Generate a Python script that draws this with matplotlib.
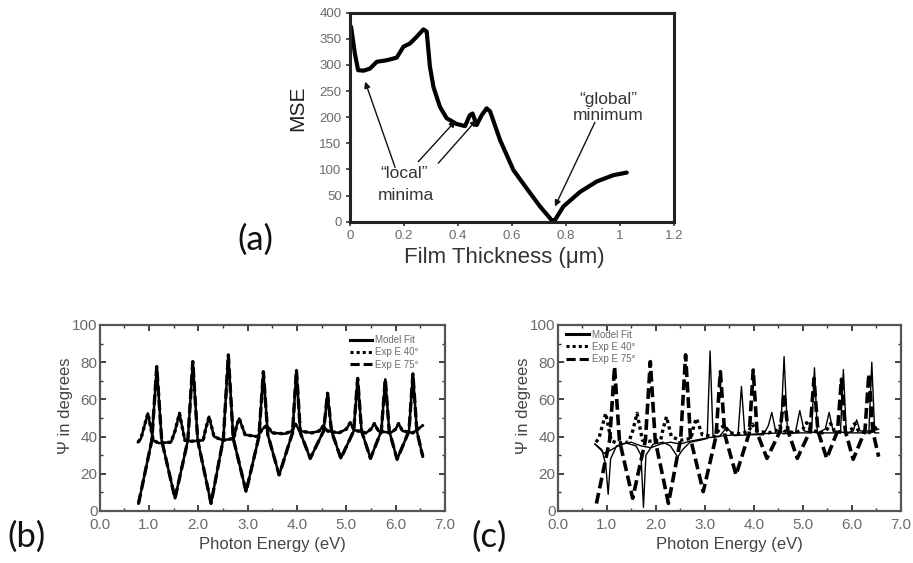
import matplotlib
matplotlib.use("Agg")
import matplotlib.pyplot as plt
from matplotlib.ticker import MultipleLocator, FormatStrFormatter, FuncFormatter

# ---------------- data ----------------
# (a) MSE vs film thickness
a_thickness = [0.004, 0.018, 0.03, 0.05, 0.074, 0.099, 0.136, 0.173, 0.198, 0.222,
               0.247, 0.272, 0.284, 0.296, 0.309, 0.333, 0.358, 0.395, 0.426, 0.444,
               0.454, 0.469, 0.488, 0.506, 0.519, 0.556, 0.605, 0.654, 0.704, 0.747,
               0.759, 0.79, 0.852, 0.914, 0.975, 1.025]
a_mse = [373, 322, 290, 289, 293, 306, 309, 314, 335, 341,
         354, 368, 364, 297, 258, 220, 198, 187, 183, 204,
         207, 185, 204, 217, 211, 156, 99, 64, 29, 3,
         3, 29, 57, 77, 89, 94]

# experimental Psi at 40 deg
exp_energy_40 = [0.78, 0.84, 0.98, 1.09, 1.2, 1.45, 1.53, 1.62, 1.73, 1.85, 2.1, 2.15, 2.22,
                 2.32, 2.5, 2.72, 2.78, 2.83, 2.95, 3.2, 3.3, 3.39, 3.5, 3.75, 3.9, 3.97,
                 4.06, 4.3, 4.45, 4.53, 4.62, 4.85, 5.0, 5.08, 5.16, 5.4, 5.5, 5.57, 5.65,
                 5.9, 6.0, 6.06, 6.14, 6.35, 6.55]
exp_psi_40 = [37, 39, 52.5, 38, 36.5, 37, 43, 52.5, 38, 37.5, 38, 44, 50.7,
              40, 38, 39, 46, 49.8, 41, 40, 44, 46, 42, 41.5, 43, 46.7,
              43, 42, 43, 45.7, 43, 42, 44, 47.5, 43.5, 42, 44, 47, 43,
              42, 44, 47, 43, 42, 46]

# experimental Psi at 75 deg
exp_energy_75 = [0.79, 1.06, 1.16, 1.26, 1.53, 1.79, 1.89, 1.99, 2.26, 2.51, 2.61, 2.71,
                 2.97, 3.23, 3.32, 3.41, 3.64, 3.91, 3.99, 4.07, 4.27, 4.54, 4.62, 4.7,
                 4.89, 5.15, 5.23, 5.31, 5.49, 5.71, 5.79, 5.87, 6.03, 6.27, 6.35, 6.43, 6.55]
exp_psi_75 = [4, 38, 77.6, 38, 6.8, 38, 80.3, 38, 4.1, 39, 83.9, 39,
              10.4, 40, 74.9, 41, 19.4, 42, 75.8, 42, 28.3, 43, 63.3, 43,
              28.3, 43, 71.3, 43, 28.3, 43, 70.8, 43, 27.8, 43, 73.7, 43, 29.2]

# (b) model fit (overlays the experiment)
b_model_energy_40 = exp_energy_40
b_model_psi_40 = exp_psi_40
b_model_energy_75 = exp_energy_75
b_model_psi_75 = exp_psi_75

# (c) model fit for a wrong thickness
c_model_energy_75 = [0.76, 0.9, 0.98, 1.03, 1.08, 1.2, 1.4, 1.6, 1.7, 1.75, 1.8, 1.95, 2.15,
                     2.3, 2.45, 2.55, 2.7, 2.9, 3.05, 3.11, 3.17, 3.4, 3.68, 3.75, 3.82,
                     4.1, 4.55, 4.62, 4.69, 5.0, 5.18, 5.24, 5.3, 5.6, 5.77, 5.83, 5.89,
                     6.2, 6.35, 6.41, 6.47, 6.55]
c_model_psi_75 = [36, 33, 25, 9, 28, 35, 36.5, 35, 30, 2, 30, 36, 37,
                  35, 29, 33, 37, 38, 39, 86, 40, 40.5, 41, 67, 41,
                  41.5, 42, 83, 42, 42, 42, 77, 42, 42, 42, 76, 42,
                  42, 42, 80, 42, 42]
c_model_energy_40 = [0.76, 0.95, 1.1, 1.3, 1.5, 1.7, 1.9, 2.1, 2.3, 2.5, 2.7, 2.9, 3.1,
                     3.3, 3.45, 3.6, 3.9, 4.2, 4.3, 4.37, 4.44, 4.6, 4.85, 4.94, 5.03,
                     5.3, 5.46, 5.54, 5.62, 5.9, 6.03, 6.1, 6.17, 6.4, 6.55]
c_model_psi_40 = [36, 31, 33, 36, 37, 35, 34, 36, 37, 36, 37.5, 38.5, 39.5,
                  40, 45, 40.5, 41, 41, 46, 53, 44, 41.5, 42, 54, 43,
                  42, 44, 53, 43, 42, 43, 49, 43, 43, 44]

legend_labels = ["Model Fit", "Exp E 40\u00b0", "Exp E 75\u00b0"]
panel_labels = ["(a)", "(b)", "(c)"]

# ---------------- figure ----------------
W, H = 913, 563
fig = plt.figure(figsize=(W / 100, H / 100), dpi=100)
plt.rcParams['font.family'] = ['Liberation Sans', 'DejaVu Sans']

def frac(left, top, right, bottom):
    return [left / W, 1 - bottom / H, (right - left) / W, (bottom - top) / H]

GRAY = '#6a6a6a'

# ---- (a) ----
axa = fig.add_axes(frac(350, 12.7, 674, 221.7))
axa.plot(a_thickness, a_mse, color='black', lw=3.0, solid_joinstyle='round',
         solid_capstyle='round')
axa.set_xlim(0, 1.2)
axa.set_ylim(0, 400)
axa.xaxis.set_major_locator(MultipleLocator(0.2))
axa.yaxis.set_major_locator(MultipleLocator(50))
axa.xaxis.set_major_formatter(FuncFormatter(lambda v, p: ('%g' % round(v, 1))))
for s in axa.spines.values():
    s.set_linewidth(2.2)
    s.set_color('#222222')
axa.tick_params(direction='out', length=3, width=1.2, labelsize=9.5, labelcolor=GRAY,
                colors='#333333', pad=3)
for lab in axa.get_xticklabels() + axa.get_yticklabels():
    lab.set_color(GRAY)
fig.text(504 / W, 1 - 258 / H, "Film Thickness (\u03bcm)", ha='center', va='center',
         fontsize=16, color='#333333')
fig.text(298 / W, 1 - 108 / H, "MSE", ha='center', va='center', rotation=90,
         fontsize=15, color='#222222')

ann_col = '#333333'
axa.text(0.2, 92, "\u201clocal\u201d", ha='center', va='center', fontsize=12.5, color=ann_col)
axa.text(0.207, 50, "minima", ha='center', va='center', fontsize=12.5, color=ann_col)
axa.text(0.957, 234, "\u201cglobal\u201d", ha='center', va='center', fontsize=12.5, color=ann_col)
axa.text(0.957, 204, "minimum", ha='center', va='center', fontsize=12.5, color=ann_col)
arrow_kw = dict(arrowstyle='-|>', color='#111111', lw=1.0, mutation_scale=9,
                shrinkA=0, shrinkB=0)
axa.annotate("", xy=(0.056, 268), xytext=(0.167, 104), arrowprops=arrow_kw)
axa.annotate("", xy=(0.391, 193), xytext=(0.253, 115), arrowprops=arrow_kw)
axa.annotate("", xy=(0.469, 195), xytext=(0.327, 112), arrowprops=arrow_kw)
axa.annotate("", xy=(0.759, 29), xytext=(0.907, 190), arrowprops=arrow_kw)

# ---- (b) and (c) ----
def style_psi_axes(ax):
    ax.set_xlim(0, 7)
    ax.set_ylim(0, 100)
    ax.xaxis.set_major_locator(MultipleLocator(1.0))
    ax.xaxis.set_minor_locator(MultipleLocator(0.5))
    ax.yaxis.set_major_locator(MultipleLocator(20))
    ax.yaxis.set_minor_locator(MultipleLocator(10))
    ax.xaxis.set_major_formatter(FormatStrFormatter('%.1f'))
    for s in ax.spines.values():
        s.set_linewidth(1.6)
        s.set_color('#555555')
    ax.tick_params(which='both', direction='in', top=True, right=True,
                   colors='#333333', labelcolor=GRAY, labelsize=11)
    ax.tick_params(which='major', length=4, width=1.3)
    ax.tick_params(which='minor', length=2.5, width=1.0)
    ax.tick_params(axis='y', pad=1.5)
    ax.tick_params(axis='x', pad=5)

dotted = (0, (1.0, 1.0))
dashed = (0, (3.0, 1.3))

axb = fig.add_axes(frac(99.5, 325, 445, 511))
axb.plot(exp_energy_40, exp_psi_40, color='black', lw=2.4, ls=dotted, label=legend_labels[1])
axb.plot(exp_energy_75, exp_psi_75, color='black', lw=2.4, ls=dashed, label=legend_labels[2])
axb.plot(b_model_energy_40, b_model_psi_40, color='black', lw=1.8, label=legend_labels[0])
axb.plot(b_model_energy_75, b_model_psi_75, color='black', lw=1.8)
style_psi_axes(axb)

axc = fig.add_axes(frac(557.7, 325, 900.7, 511))
axc.plot(exp_energy_40, exp_psi_40, color='black', lw=2.4, ls=dotted, label=legend_labels[1])
axc.plot(exp_energy_75, exp_psi_75, color='black', lw=2.6, ls=dashed, label=legend_labels[2])
axc.plot(c_model_energy_40, c_model_psi_40, color='black', lw=1.0, label=legend_labels[0])
axc.plot(c_model_energy_75, c_model_psi_75, color='black', lw=1.0)
style_psi_axes(axc)

for ax, anchor in ((axb, (0.725, 0.945)), (axc, (0.025, 0.975))):
    h, l = ax.get_legend_handles_labels()
    order = [l.index(t) for t in legend_labels]
    leg = ax.legend([h[i] for i in order], [l[i] for i in order], loc='upper left',
                    bbox_to_anchor=anchor, frameon=False, fontsize=7, handlelength=2.3,
                    handletextpad=0.3, labelspacing=0.22, borderpad=0, borderaxespad=0)
    for t in leg.get_texts():
        t.set_color(GRAY)
    for ln in leg.get_lines():
        ln.set_linewidth(2.2)

for cx, ax_left in ((272, 99.5), (729, 557.7)):
    fig.text(cx / W, 1 - 545 / H, "Photon Energy (eV)", ha='center', va='center',
             fontsize=12, color='#444444')
    fig.text((ax_left - 34.5) / W, 1 - 406 / H, "\u03a8 in degrees", ha='center', va='center',
             rotation=90, fontsize=12, color='#444444')

# panel labels
fig.text(255 / W, 1 - 240 / H, panel_labels[0], ha='center', va='center', fontsize=25,
         family=['Lato', 'DejaVu Sans'], color='#111111')
fig.text(26 / W, 1 - 537 / H, panel_labels[1], ha='center', va='center', fontsize=25,
         family=['Lato', 'DejaVu Sans'], color='#111111')
fig.text(489 / W, 1 - 537 / H, panel_labels[2], ha='center', va='center', fontsize=25,
         family=['Lato', 'DejaVu Sans'], color='#111111')

fig.savefig("out.png", dpi=100)
